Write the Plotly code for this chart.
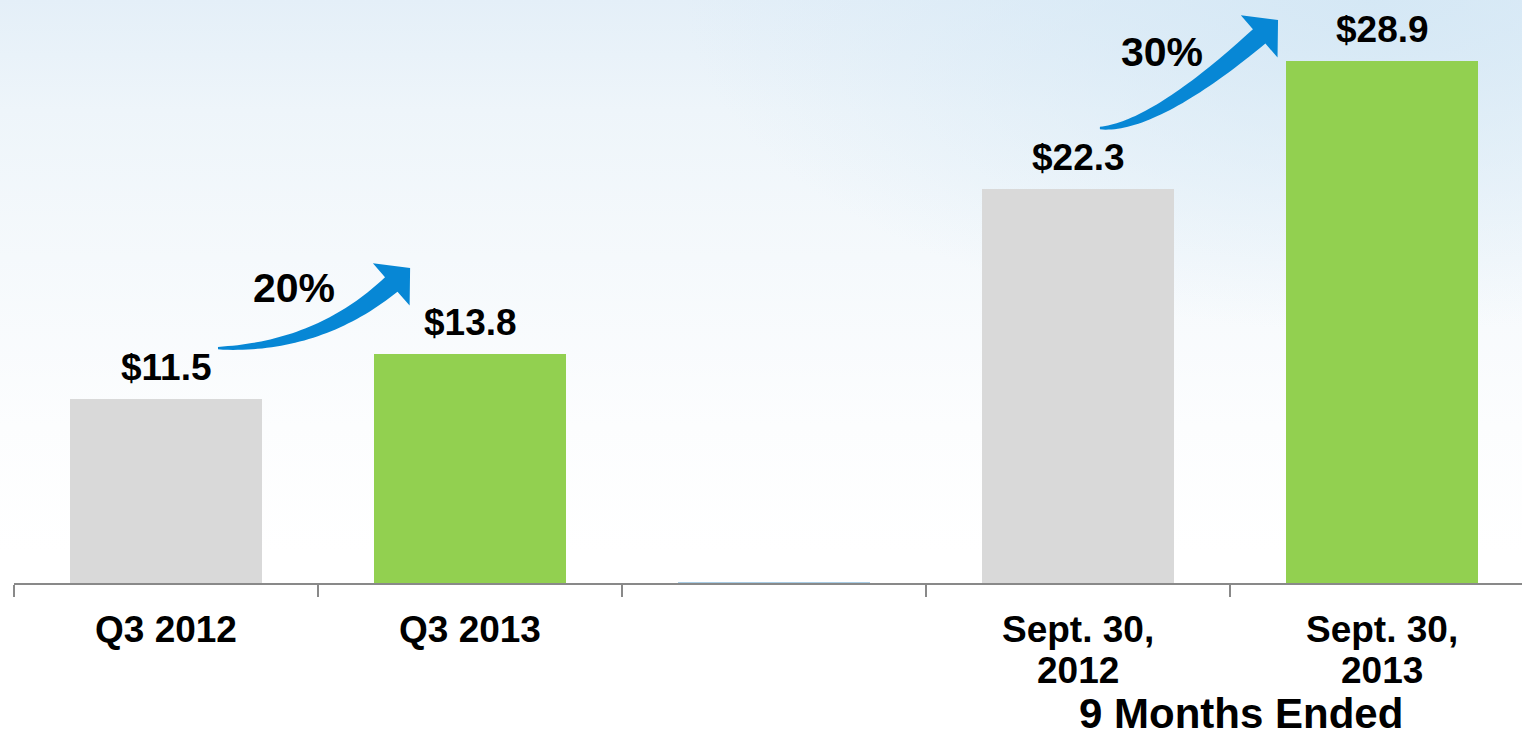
import base64
import math
import plotly.graph_objects as go

# ---------------- data ----------------
categories = ["Q3 2012", "Q3 2013", "", "Sept. 30,<br>2012", "Sept. 30,<br>2013"]
values = [11.5, 13.8, 2.1, 22.3, 28.9]
show_value = [True, True, False, True, True]
growth_labels = ["20%", "30%"]
growth_from = [0, 3]
growth_to = [1, 4]
group_label = "9 Months Ended"

# ---------------- style / layout ----------------
W, H = 1522, 736
M_L, M_R, M_T, M_B = 14, 0, 0, 153
PLOT_W = W - M_L - M_R
PLOT_H = H - M_T - M_B
SLOT_PX = 304
X_RANGE = [-0.5, -0.5 + PLOT_W / SLOT_PX]
Y_RANGE = [2.03, 32.04]
bar_colors = ["#d9d9d9", "#92d050", "#a9cde6", "#d9d9d9", "#92d050"]
FONT = "Liberation Sans, Arial, sans-serif"
AXIS_COL = "#898989"
ARROW_COL = "#0787d5"

PX_X = PLOT_W / (X_RANGE[1] - X_RANGE[0])
PX_Y = PLOT_H / (Y_RANGE[1] - Y_RANGE[0])


def d2p(x, y):
    return ((x - X_RANGE[0]) * PX_X, (Y_RANGE[1] - y) * PX_Y)


def p2d(px, py):
    return (X_RANGE[0] + px / PX_X, Y_RANGE[1] - py / PX_Y)


# arrow anchor offsets (slot units, value units) relative to the bars
arrow_tail_off = [(0.171, 2.62), (0.072, 3.15)]
arrow_tip_off = [(-0.197, 4.44), (-0.342, 2.11)]
pct_off = [(0.421, 17.21), (3.276, 29.36)]


def arrow_path(tail, tip):
    tx, ty = d2p(*tail)
    px, py = d2p(*tip)
    ang = math.radians(41)
    dx, dy = math.cos(ang), -math.sin(ang)
    L, HW, w0, w1 = 25, 28, 1.2, 9.5
    bx, by = px - L * dx, py - L * dy
    t_ = (ty - by) / (-dy) if dy != 0 else 0
    cx, cy = bx - dx * t_, ty
    upper, lower = [], []
    N = 40
    for i in range(N + 1):
        t = i / N
        x = (1 - t) ** 2 * tx + 2 * (1 - t) * t * cx + t * t * bx
        y = (1 - t) ** 2 * ty + 2 * (1 - t) * t * cy + t * t * by
        ddx = 2 * (1 - t) * (cx - tx) + 2 * t * (bx - cx)
        ddy = 2 * (1 - t) * (cy - ty) + 2 * t * (by - cy)
        n = math.hypot(ddx, ddy) or 1
        nx, ny = ddy / n, -ddx / n
        w = w0 + (w1 - w0) * (t ** 0.85)
        upper.append((x + nx * w, y + ny * w))
        lower.append((x - nx * w, y - ny * w))
    nx, ny = dy, -dx
    head = [(bx + nx * HW, by + ny * HW), (px, py), (bx - nx * HW, by - ny * HW)]
    pts = upper + head + lower[::-1]
    dpts = [p2d(a, b) for a, b in pts]
    return "M " + " L ".join(f"{a:.5f},{b:.5f}" for a, b in dpts) + " Z"


xs = list(range(len(categories)))

fig = go.Figure()
fig.add_trace(go.Bar(x=xs, y=values, width=0.63, marker=dict(color=bar_colors, line=dict(width=0)),
                     hoverinfo="skip"))

annotations = []
for i, v in enumerate(values):
    if show_value[i]:
        annotations.append(dict(x=i, y=v, xref="x", yref="y", text=f"<b>${v:.1f}</b>", showarrow=False,
                                yanchor="middle", yshift=32, font=dict(family=FONT, size=37, color="black")))
for i, c in enumerate(categories):
    for k, line in enumerate(c.split("<br>")):
        if line:
            annotations.append(dict(x=i, y=0, xref="x", yref="paper", text=f"<b>{line}</b>", showarrow=False,
                                    yanchor="middle", yshift=-46 - 41 * k,
                                    font=dict(family=FONT, size=37, color="black")))
annotations.append(dict(x=3.5, y=0, xref="x", yref="paper", text=f"<b>{group_label}</b>", showarrow=False,
                        yanchor="middle", yshift=-130, xshift=11,
                        font=dict(family=FONT, size=42, color="black")))

shapes = []
for j, lab in enumerate(growth_labels):
    a, b = growth_from[j], growth_to[j]
    tail = (a + arrow_tail_off[j][0], values[a] + arrow_tail_off[j][1])
    tip = (b + arrow_tip_off[j][0], values[b] + arrow_tip_off[j][1])
    shapes.append(dict(type="path", xref="x", yref="y", path=arrow_path(tail, tip),
                       fillcolor=ARROW_COL, line=dict(width=0), layer="above"))
    annotations.append(dict(x=pct_off[j][0], y=pct_off[j][1], xref="x", yref="y", text=f"<b>{lab}</b>",
                            showarrow=False, yanchor="middle",
                            font=dict(family=FONT, size=41, color="black")))

svg = f'''<svg xmlns="http://www.w3.org/2000/svg" width="{W}" height="{H}" viewBox="0 0 {W} {H}" preserveAspectRatio="none">
<defs>
<linearGradient id="g" x1="0" y1="0" x2="0" y2="1">
<stop offset="0" stop-color="#e4eff8"/><stop offset="0.15" stop-color="#eef5fa"/>
<stop offset="0.35" stop-color="#f5f9fc"/><stop offset="0.58" stop-color="#fcfdfe"/>
<stop offset="0.75" stop-color="#ffffff"/>
</linearGradient>
<radialGradient id="r" cx="0.9" cy="0" r="0.45">
<stop offset="0" stop-color="#d3e7f5" stop-opacity="0.9"/><stop offset="1" stop-color="#d3e7f5" stop-opacity="0"/>
</radialGradient>
</defs>
<rect width="{W}" height="{H}" fill="url(#g)"/>
<rect width="{W}" height="{H}" fill="url(#r)"/>
</svg>'''
src = "data:image/svg+xml;base64," + base64.b64encode(svg.encode()).decode()

fig.update_layout(
    width=W, height=H,
    margin=dict(l=M_L, r=M_R, t=M_T, b=M_B, pad=0),
    paper_bgcolor="white", plot_bgcolor="rgba(0,0,0,0)",
    showlegend=False, bargap=0,
    annotations=annotations, shapes=shapes,
    images=[dict(source=src, xref="paper", yref="paper", x=-M_L / PLOT_W, y=1 + M_T / PLOT_H,
                 sizex=W / PLOT_W, sizey=H / PLOT_H, xanchor="left", yanchor="top",
                 sizing="stretch", layer="below")],
    xaxis=dict(range=X_RANGE, tickvals=[i - 0.5 for i in range(len(categories))], ticks="outside",
               ticklen=12, tickwidth=2, tickcolor=AXIS_COL, showticklabels=False, showline=True,
               linecolor=AXIS_COL, linewidth=2, showgrid=False, zeroline=False, fixedrange=True),
    yaxis=dict(range=Y_RANGE, visible=False, showgrid=False, zeroline=False, fixedrange=True),
)

fig.write_html("out.html", config={"displayModeBar": False},
               post_script="document.body.style.margin='0';document.body.style.overflow='hidden';")
